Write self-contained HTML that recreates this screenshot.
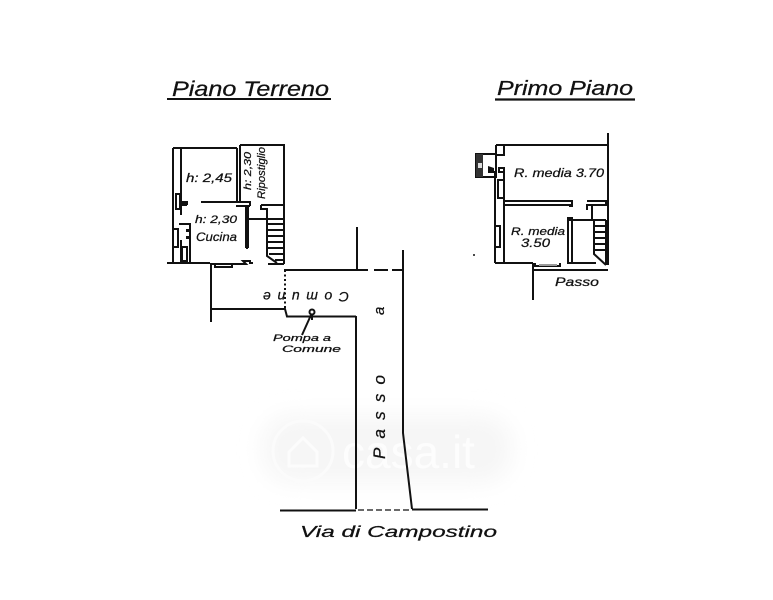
<!DOCTYPE html>
<html><head><meta charset="utf-8"><style>
html,body{margin:0;padding:0;background:#fff}
svg{display:block}
text{font-family:"Liberation Sans",sans-serif;font-style:italic;fill:#111;stroke:#111;stroke-width:.25}
.w{font-style:normal;fill:#fdfdfd;stroke:none}
</style></head><body>
<svg width="773" height="600" viewBox="0 0 773 600" xmlns="http://www.w3.org/2000/svg">
<defs><filter id="b" x="-20%" y="-40%" width="140%" height="180%"><feGaussianBlur stdDeviation="11"/></filter></defs>
<rect width="773" height="600" fill="#fff"/>
<!-- watermark -->
<rect x="262" y="415" width="250" height="68" rx="30" fill="#f6f6f6" filter="url(#b)"/>
<circle cx="303" cy="451" r="30" fill="none" stroke="#fbfbfb" stroke-width="3"/>
<path d="M289 452 L303 438 L317 452 V466 H289Z" fill="none" stroke="#fcfcfc" stroke-width="3"/>
<text x="342" y="468" font-size="46" class="w">casa.it</text>
<!-- titles -->
<text x="172" y="96" font-size="21" textLength="157" lengthAdjust="spacingAndGlyphs">Piano Terreno</text>
<path d="M167 99H331" stroke="#111" stroke-width="2"/>
<text x="497" y="95" font-size="20" textLength="136" lengthAdjust="spacingAndGlyphs">Primo Piano</text>
<path d="M495 99.500H635" stroke="#111" stroke-width="2.200"/>

<g fill="none" stroke="#111" stroke-width="2">
<!-- ground floor walls -->
<path d="M173 148V263M173 148H237M181 148V202M237 148V201M240 145H284V264M240 145V201"/>
<path d="M181 202H187V204H181M201 202H250V206"/>
<path d="M181 204V215M181 205H187M181 263V240"/>
<path d="M236 206H250M246 206V248M248 206V248M246 248H248"/>
<path d="M249 219H266M261 205H284M261 205V209H267V219"/>
<path d="M267 219H284M267 219V256L277 263"/>
<path d="M267 224H284M268 230H284M268 236H284M268 242H284M268 248H284M269 254H284M275 260H284"/>
<path d="M167 263H210M210 264H246L243 261H250V263H253M268 264H284M284 270H368"/>
<path d="M176 194V209H180V194ZM173 229H178V247H173M179 224H190V263H180"/>
<path d="M182 247H187V261H182Z"/>
<path d="M215 264V267H232V264"/>
<!-- courtyard -->
<path d="M211 264V322M211 309H285L287 316.500H356"/>
<path d="M357 227V270"/>
<path d="M356 316V509"/>
<path d="M403 250V433L412 509"/>
<path d="M285 270V309" stroke-dasharray="2 2.500"/>
<path d="M374 270H388M392 270H403" />
<path d="M280 510.500H356M412 509.500H488"/>
<path d="M358 510H412" stroke-dasharray="6 3" stroke-width="1.200"/>
<circle cx="312" cy="312" r="2.500" stroke-width="2"/>
<path d="M311 315L302 335M309 318L312 316L312 320" />
<!-- first floor -->
<path d="M496 145H608M608 133V265"/>
<path d="M496 145V155H504V145"/>
<path d="M476 154H496V177H476ZM496 154V177"/>
<path d="M495 171V263M504 168V263"/>
<path d="M499 168H504V172H499ZM498 180H504V198H498ZM495 226H500V247H495Z"/>
<path d="M495 263H533M533 263V300"/>
<path d="M504 201H572V205H504M572 201V206H569"/>
<path d="M587 201H606V205H587V210M592 205V219"/>
<path d="M568 218H572V263H568ZM568 220H606"/>
<path d="M594 221V254L606 265M606 220V265"/>
<path d="M594 226H606M594 232H606M594 238H606M594 244H606M594 250H606"/>
<path d="M572 263H596M534 270H608M535 263V266H560V263"/>
</g>
<g fill="#111">
<rect x="476" y="154" width="7" height="23" fill="#333"/>
<rect x="478" y="163" width="4" height="5" fill="#ddd"/>
<path d="M488 166L494 168V173H488Z"/>
<circle cx="474" cy="255" r="1"/>
<rect x="186" y="236" width="4" height="3"/>
<rect x="186" y="229" width="4" height="3"/>
<rect x="539" y="264" width="18" height="2" fill="#999"/>
</g>
<!-- labels -->
<text x="186" y="182" font-size="12" textLength="46" lengthAdjust="spacingAndGlyphs">h: 2,45</text>
<text x="195" y="223" font-size="11" textLength="42" lengthAdjust="spacingAndGlyphs">h: 2,30</text>
<text x="196" y="241" font-size="12" textLength="41" lengthAdjust="spacingAndGlyphs">Cucina</text>
<text x="0" y="0" font-size="10" transform="translate(251,190) rotate(-90)" textLength="38" lengthAdjust="spacingAndGlyphs">h: 2,30</text>
<text x="0" y="0" font-size="11" transform="translate(265,199) rotate(-90)" textLength="52" lengthAdjust="spacingAndGlyphs">Ripostiglio</text>
<text x="514" y="177" font-size="12" textLength="90" lengthAdjust="spacingAndGlyphs">R. media 3.70</text>
<text x="511" y="235" font-size="11" textLength="54" lengthAdjust="spacingAndGlyphs">R. media</text>
<text x="521" y="247" font-size="12" textLength="29" lengthAdjust="spacingAndGlyphs">3.50</text>
<text x="555" y="286" font-size="12" textLength="44" lengthAdjust="spacingAndGlyphs">Passo</text>
<text x="0" y="0" font-size="14" transform="translate(349,292) rotate(180)" textLength="86" lengthAdjust="spacing">Comune</text>
<text x="273" y="341" font-size="9" textLength="58" lengthAdjust="spacingAndGlyphs">Pompa a</text>
<text x="282" y="352" font-size="9" textLength="59" lengthAdjust="spacingAndGlyphs">Comune</text>
<text x="0" y="0" font-size="17" transform="translate(385,459) rotate(-90)" textLength="84" lengthAdjust="spacing">Passo</text>
<text x="0" y="0" font-size="15" transform="translate(384,315) rotate(-90)">a</text>
<text x="300" y="537" font-size="16" textLength="197" lengthAdjust="spacingAndGlyphs">Via di Campostino</text>
</svg>
</body></html>
